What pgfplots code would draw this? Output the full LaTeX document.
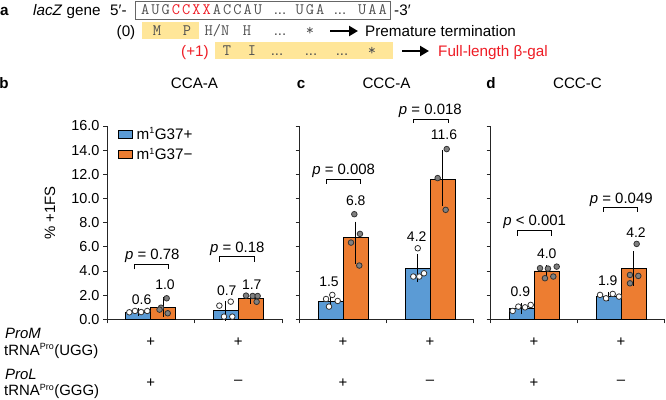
\documentclass[border=0pt]{standalone}
\usepackage{fontspec}
\setmainfont{Liberation Sans}
\usepackage{pgfplots}
\pgfplotsset{compat=1.18}
\usepackage{pgfplotstable}
\usetikzlibrary{arrows.meta}
\definecolor{myblue}{HTML}{5B9BD5}
\definecolor{myorange}{HTML}{ED7D31}
\definecolor{myyellow}{HTML}{FFE699}
\definecolor{myred}{HTML}{EE1C25}
\definecolor{seqgray}{HTML}{505050}
\definecolor{ptgray}{HTML}{808080}
\newcommand\fsA{\fontsize{15}{17}\selectfont}
\newcommand\fsT{\fontsize{15.2}{17}\selectfont}
\newcommand\fsL{\fontsize{15.3}{17}\selectfont}
\newcommand\fsB{\fontsize{14.5}{16}\selectfont}
\newcommand\fsC{\fontsize{14}{16}\selectfont}
\newcommand\fsM{\ttfamily\fontsize{16}{16}\selectfont}
\newcommand\sq[1]{\makebox[10.25bp][c]{#1}}

% ---------- data: bars (x, mean, error plus, error minus) ----------
\pgfplotstableread{
x y ep em
-0.143 0.6 0.1 0.1
0.857 0.7 0.6 0.6
}\bBlue
\pgfplotstableread{
x y ep em
0.143 1.0 0.6 0.6
1.143 1.7 0.2 0.2
}\bOrange
\pgfplotstableread{
x y ep em
-0.143 1.5 0.35 0.35
0.857 4.2 1.0 0.9
}\cBlue
\pgfplotstableread{
x y ep em
0.143 6.8 1.07 2.0
1.143 11.6 2.16 2.0
}\cOrange
\pgfplotstableread{
x y ep em
-0.143 0.9 0.2 0.2
0.857 1.9 0.15 0.15
}\dBlue
\pgfplotstableread{
x y ep em
0.143 4.0 0.25 0.25
1.143 4.2 1.2 1.2
}\dOrange
% ---------- data: individual points ----------
\pgfplotstableread{
x y
-0.245 0.58
-0.18 0.69
-0.11 0.60
-0.04 0.69
0.784 1.13
0.914 1.46
0.837 0.22
0.932 0.22
}\bBluePts
\pgfplotstableread{
x y
0.182 1.74
0.117 0.96
0.194 0.50
0.100 0.80
1.089 1.96
1.165 1.93
1.222 1.93
1.210 1.45
}\bOrangePts
\pgfplotstableread{
x y
-0.195 1.68
-0.123 2.02
-0.061 1.52
-0.161 1.05
0.859 5.88
0.808 3.54
0.877 3.54
0.931 3.81
}\cBluePts
\pgfplotstableread{
x y
0.130 8.70
0.195 7.07
0.092 6.35
0.187 4.45
1.192 14.09
1.088 11.69
1.180 9.06
}\cOrangePts
\pgfplotstableread{
x y
-0.245 0.69
-0.18 1.05
-0.103 0.99
-0.038 1.19
0.759 2.02
0.828 1.74
0.905 2.10
0.977 1.88
}\dBluePts
\pgfplotstableread{
x y
0.069 4.23
0.160 4.20
0.261 4.36
0.126 3.40
0.222 3.54
1.180 6.24
1.103 3.67
1.199 3.59
1.103 2.98
}\dOrangePts

\pgfplotsset{
  panel/.style={
    scale only axis, height=193.3bp,
    xmin=-0.5, xmax=1.5, ymin=0, ymax=16,
    axis lines=left, axis line style={-, line width=0.9pt, black!85},
    xtick={-0.5,0.5,1.5}, xticklabels={},
    ytick={0,2,...,16},
    tick align=outside, major tick length=4bp,
    tick style={line width=0.9pt, black!85},
    clip=false,
    yticklabel style={font=\fsB, /pgf/number format/.cd, fixed, fixed zerofill, precision=1, assume math mode=true},
  },
  barB/.style={ybar, bar width=0.286, bar shift=0pt, fill=myblue, draw=black, line width=0.7pt,
    legend image code/.code={\draw[fill=myblue, draw=black, line width=0.7pt] (0bp,-4bp) rectangle (14bp,4bp);},
    error bars/.cd, y dir=both, y explicit, error bar style={line width=0.8pt, black},
    error mark options={black, mark size=2.7bp, line width=0.8pt}},
  barO/.style={ybar, bar width=0.286, bar shift=0pt, fill=myorange, draw=black, line width=0.7pt,
    legend image code/.code={\draw[fill=myorange, draw=black, line width=0.7pt] (0bp,-4bp) rectangle (14bp,4bp);},
    error bars/.cd, y dir=both, y explicit, error bar style={line width=0.8pt, black},
    error mark options={black, mark size=2.7bp, line width=0.8pt}},
  ptW/.style={only marks, mark=*, mark size=2.8bp, mark options={fill=white, draw=black!80, line width=0.8pt}, forget plot},
  ptG/.style={only marks, mark=*, mark size=2.8bp, mark options={fill=ptgray, draw=black!80, line width=0.8pt}, forget plot},
}
\tikzset{
  lab/.style={font=\fsC, text height=10bp, text depth=0pt, inner sep=0pt, anchor=center},
  plab/.style={font=\fsA, text height=10.7bp, text depth=0pt, inner sep=0pt, anchor=center},
  brk/.style={line width=0.8pt, black},
}

\begin{document}
\begin{tikzpicture}
\useasboundingbox (0,0) rectangle (666bp,-400bp);

% ---------------- panel a ----------------
\node[anchor=base west, inner sep=0pt, font=\fsL\bfseries] at (0bp,-15.5bp) {a};
\node[anchor=base west, inner sep=0pt, font=\fsL] at (33bp,-15.5bp) {\textit{lacZ} gene};
\node[anchor=base west, inner sep=0pt, font=\fsL] at (110bp,-15.5bp) {5′-};
\draw[line width=0.8pt, black!60] (135bp,-1bp) rectangle (390bp,-19.5bp);
\node[anchor=base west, inner sep=0pt, font=\fsM, text=seqgray] at (140bp,-14.8bp)
  {\sq A\sq U\sq G\textcolor{myred}{\sq C\sq C\sq X\sq X}\sq A\sq C\sq C\sq A\sq U};
\node[anchor=base, inner sep=0pt, font=\fsA, text=seqgray] at (280bp,-14.8bp) {...};
\node[anchor=base west, inner sep=0pt, font=\fsM, text=seqgray] at (294.5bp,-14.8bp) {\sq U\sq G\sq A};
\node[anchor=base, inner sep=0pt, font=\fsA, text=seqgray] at (340bp,-14.8bp) {...};
\node[anchor=base west, inner sep=0pt, font=\fsM, text=seqgray] at (357bp,-14.8bp) {\sq U\sq A\sq A};
\node[anchor=base west, inner sep=0pt, font=\fsL] at (394bp,-15.5bp) {-3′};

% row (0)
\fill[myyellow] (142bp,-21.7bp) rectangle (199bp,-39.3bp);
\node[anchor=base, inner sep=0pt, font=\fsL] at (126bp,-36.4bp) {(0)};
\foreach \px/\t in {157/M, 187/P, 217/H\slash N, 247/H, 310/*}
  \node[anchor=base, inner sep=0pt, font=\fsM, text=seqgray] at (\px bp,-35.8bp) {\t};
\node[anchor=base, inner sep=0pt, font=\fsA, text=seqgray] at (280bp,-35.8bp) {...};
\draw[line width=2.8bp, -{Triangle[length=9bp,width=10bp]}] (330bp,-31bp) -- (358bp,-31bp);
\node[anchor=base west, inner sep=0pt, font=\fsL] at (365bp,-36.4bp) {Premature termination};

% row (+1)
\fill[myyellow] (215bp,-41.7bp) rectangle (393bp,-59.3bp);
\node[anchor=base, inner sep=0pt, font=\fsL, text=myred] at (195bp,-56.4bp) {(+1)};
\foreach \px/\t in {227/T, 252/I, 372/*}
  \node[anchor=base, inner sep=0pt, font=\fsM, text=seqgray] at (\px bp,-55.8bp) {\t};
\foreach \px in {277, 311, 342}
  \node[anchor=base, inner sep=0pt, font=\fsA, text=seqgray] at (\px bp,-55.8bp) {...};
\draw[line width=2.8bp, -{Triangle[length=9bp,width=10bp]}] (402bp,-51bp) -- (429bp,-51bp);
\node[anchor=base west, inner sep=0pt, font=\fsL, text=myred] at (438bp,-56.4bp) {Full-length β-gal};

% ---------------- panel titles ----------------
\node[anchor=base, inner sep=0pt, font=\fsT\bfseries] at (4bp,-88.4bp) {b};
\node[anchor=base, inner sep=0pt, font=\fsT] at (194.5bp,-88.4bp) {CCA-A};
\node[anchor=base, inner sep=0pt, font=\fsT\bfseries] at (301bp,-88.4bp) {c};
\node[anchor=base, inner sep=0pt, font=\fsT] at (386.5bp,-88.4bp) {CCC-A};
\node[anchor=base, inner sep=0pt, font=\fsT\bfseries] at (491bp,-88.4bp) {d};
\node[anchor=base, inner sep=0pt, font=\fsT] at (577.5bp,-88.4bp) {CCC-C};

% y label
\node[rotate=90, inner sep=0pt, font=\fsA] at (50bp,-213bp) {\% +1FS};

% row labels
\node[anchor=base west, inner sep=0pt, font=\fsA\itshape] at (5bp,-338.4bp) {ProM};
\node[anchor=base west, inner sep=0pt, font=\fsA] at (4bp,-355bp) {tRNA\textsuperscript{\fontsize{9}{9}\selectfont Pro}(UGG)};
\node[anchor=base west, inner sep=0pt, font=\fsA\itshape] at (5bp,-379.4bp) {ProL};
\node[anchor=base west, inner sep=0pt, font=\fsA] at (4bp,-395.5bp) {tRNA\textsuperscript{\fontsize{9}{9}\selectfont Pro}(GGG)};

% ---------------- panel b ----------------
\begin{axis}[panel, width=175bp, at={(107bp,-319.3bp)}, anchor=south west,
  legend style={draw=none, fill=none, at={(0.063,0.998)}, anchor=north west,
    font=\fsL, row sep=5bp, column sep=2.5bp, inner sep=0pt, nodes={inner sep=1.2bp}},
  legend cell align=left]
\addplot[barB] table[x=x, y=y, y error plus=ep, y error minus=em] {\bBlue};
\addlegendentry{m\textsuperscript{\fontsize{9}{9}\selectfont 1}G37+}
\addplot[barO] table[x=x, y=y, y error plus=ep, y error minus=em] {\bOrange};
\addlegendentry{m\textsuperscript{\fontsize{9}{9}\selectfont 1}G37−}
\addplot[ptW] table[x=x, y=y] {\bBluePts};
\addplot[ptG] table[x=x, y=y] {\bOrangePts};
\node[lab] at (axis cs:-0.104,1.6) {0.6};
\node[lab] at (axis cs:0.163,2.84) {1.0};
\node[lab] at (axis cs:0.868,2.37) {0.7};
\node[lab] at (axis cs:1.154,2.84) {1.7};
\node[plab] at (axis cs:0.018,5.38) {\textit{p} = 0.78};
\draw[brk] (axis cs:-0.188,4.14) |- (axis cs:0.2,4.58) -- (axis cs:0.2,4.14);
\node[plab] at (axis cs:0.989,6.01) {\textit{p} = 0.18};
\draw[brk] (axis cs:0.79,4.77) |- (axis cs:1.18,5.19) -- (axis cs:1.18,4.77);
\node[font=\fsA] at (axis cs:0,0) [yshift=-22.4bp] {+};
\node[font=\fsA] at (axis cs:1,0) [yshift=-22.4bp] {+};
\node[font=\fsA] at (axis cs:0,0) [yshift=-63.5bp] {+};
\node[font=\fsA] at (axis cs:1,0) [yshift=-63.5bp] {–};
\end{axis}

% ---------------- panel c ----------------
\begin{axis}[panel, width=174bp, at={(299.5bp,-319.3bp)}, anchor=south west, yticklabels={}]
\addplot[barB] table[x=x, y=y, y error plus=ep, y error minus=em] {\cBlue};
\addplot[barO] table[x=x, y=y, y error plus=ep, y error minus=em] {\cOrange};
\addplot[ptW] table[x=x, y=y] {\cBluePts};
\addplot[ptG] table[x=x, y=y] {\cOrangePts};
\node[lab] at (axis cs:-0.161,3.12) {1.5};
\node[lab] at (axis cs:0.146,9.8) {6.8};
\node[lab] at (axis cs:0.847,6.85) {4.2};
\node[lab] at (axis cs:1.161,15.27) {11.6};
\node[plab] at (axis cs:0.008,12.43) {\textit{p} = 0.008};
\draw[brk] (axis cs:-0.195,11.21) |- (axis cs:0.195,11.6) -- (axis cs:0.195,11.21);
\node[plab] at (axis cs:1.004,17.42) {\textit{p} = 0.018};
\draw[brk] (axis cs:0.805,16.24) |- (axis cs:1.207,16.57) -- (axis cs:1.207,16.24);
\node[font=\fsA] at (axis cs:0,0) [yshift=-22.4bp] {+};
\node[font=\fsA] at (axis cs:1,0) [yshift=-22.4bp] {+};
\node[font=\fsA] at (axis cs:0,0) [yshift=-63.5bp] {+};
\node[font=\fsA] at (axis cs:1,0) [yshift=-63.5bp] {–};
\end{axis}

% ---------------- panel d ----------------
\begin{axis}[panel, width=174bp, at={(490.5bp,-319.3bp)}, anchor=south west, yticklabels={}]
\addplot[barB] table[x=x, y=y, y error plus=ep, y error minus=em] {\dBlue};
\addplot[barO] table[x=x, y=y, y error plus=ep, y error minus=em] {\dOrange};
\addplot[ptW] table[x=x, y=y] {\dBluePts};
\addplot[ptG] table[x=x, y=y] {\dOrangePts};
\node[lab] at (axis cs:-0.157,2.29) {0.9};
\node[lab] at (axis cs:0.146,5.47) {4.0};
\node[lab] at (axis cs:0.847,3.2) {1.9};
\node[lab] at (axis cs:1.172,7.2) {4.2};
\node[plab] at (axis cs:0.008,8.17) {\textit{p} < 0.001};
\draw[brk] (axis cs:-0.192,6.9) |- (axis cs:0.203,7.34) -- (axis cs:0.203,6.9);
\node[plab] at (axis cs:1.003,10.02) {\textit{p} = 0.049};
\draw[brk] (axis cs:0.793,8.91) |- (axis cs:1.184,9.28) -- (axis cs:1.184,8.91);
\node[font=\fsA] at (axis cs:0,0) [yshift=-22.4bp] {+};
\node[font=\fsA] at (axis cs:1,0) [yshift=-22.4bp] {+};
\node[font=\fsA] at (axis cs:0,0) [yshift=-63.5bp] {+};
\node[font=\fsA] at (axis cs:1,0) [yshift=-63.5bp] {–};
\end{axis}
\end{tikzpicture}
\end{document}
